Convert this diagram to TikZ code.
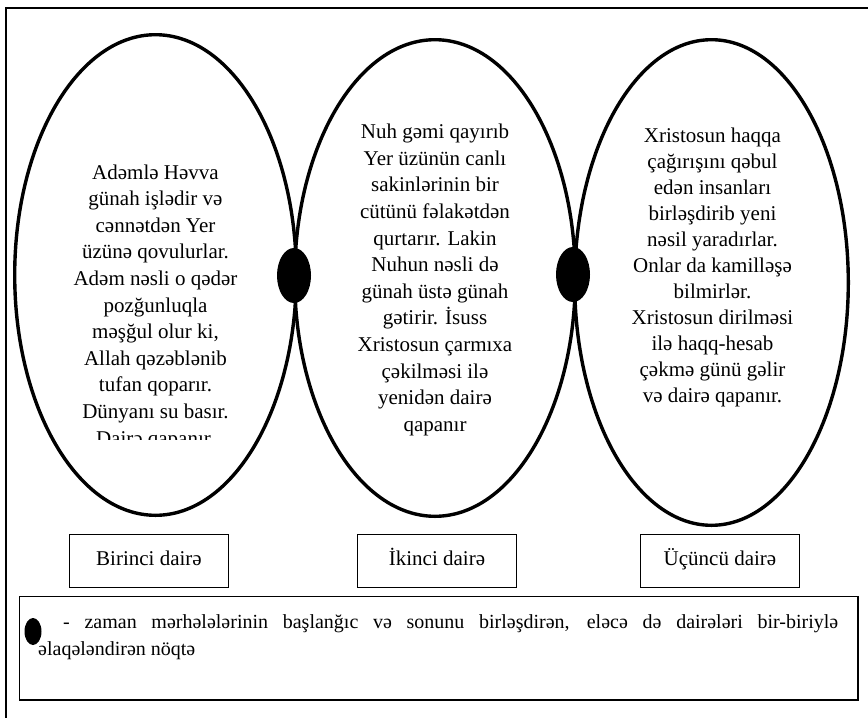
\documentclass[tikz,border=0pt]{standalone}
\usepackage{fontspec}
\setmainfont{Liberation Serif}

\begin{document}
\begin{tikzpicture}[x=1pt, y=-1pt,
    oval/.style={line width=3.4pt},
    oval text/.style={align=center, inner sep=0pt, font=\fontsize{21}{26.6}\selectfont},
    label box/.style={draw, line width=1.4pt, minimum width=158.6pt, minimum height=52.6pt, inner sep=0pt, text height=13pt, text depth=5pt, font=\fontsize{21}{25}\selectfont}]
    \useasboundingbox (0,0) rectangle (868,718);

    %outer frame, only top and left are seen
    \draw[line width=2.2pt] (868,8.3) -- (6.2,8.3) -- (6.2,718);

    %draw the three ellipses
    \foreach \x / \y / \a / \b in {155.5/275/140.8/240.3, 435/278/140.3/238.3, 711.5/282.5/136.8/242.8}
    \draw[oval] (\x,\y) ellipse [x radius=\a, y radius=\b];

    %joining dots between the ellipses
    \foreach \x / \y in {294/275.5, 573/274.5}
    \fill (\x,\y) ellipse [x radius=17, y radius=27.5];

    %texts in the ellipses (last line of the first one is cut)
    \begin{scope}
    \clip (0,0) rectangle (868,439.5);
    \node[oval text] (first) at (155.5,307) {Adəmlə Həvva\\günah işlədir və\\cənnətdən Yer\\üzünə qovulurlar.\\Adəm nəsli o qədər\\pozğunluqla\\məşğul olur ki,\\Allah qəzəblənib\\tufan qoparır.\\Dünyanı su basır.\\Dairə qapanır.};
    \end{scope}
    \node[oval text] (second) at (435,280) {Nuh gəmi qayırıb\\Yer üzünün canlı\\sakinlərinin bir\\cütünü fəlakətdən\\qurtarır. Lakin\\Nuhun nəsli də\\günah üstə günah\\gətirir. İsuss\\Xristosun çarmıxa\\çəkilməsi ilə\\yenidən dairə\\qapanır};
    \node[oval text, font=\fontsize{21}{26}\selectfont] (third) at (712.5,267) {Xristosun haqqa\\çağırışını qəbul\\edən insanları\\birləşdirib yeni\\nəsil yaradırlar.\\Onlar da kamilləşə\\bilmirlər.\\Xristosun dirilməsi\\ilə haqq-hesab\\çəkmə günü gəlir\\və dairə qapanır.};

    %names under the ellipses
    \node[label box] (box1) at (149,561) {Birinci dairə};
    \node[label box] (box2) at (437,561) {İkinci dairə};
    \node[label box] (box3) at (720,561) {Üçüncü dairə};

    %legend
    \node[draw, line width=1.6pt, minimum width=838.4pt, minimum height=103.4pt, inner sep=0pt, anchor=north west] (legend) at (18.8,595.8) {};
    \fill (33,631.5) ellipse [x radius=8.5, y radius=13.5];
    \node[anchor=north west, text width=800pt, align=justify, inner sep=0pt, font=\fontsize{20}{27}\selectfont] (note) at (38,614) {\hspace*{25pt}- zaman mərhələlərinin başlanğıc və sonunu birləşdirən, eləcə də dairələri bir-biriylə\linebreak əlaqələndirən nöqtə};
\end{tikzpicture}
\end{document}
